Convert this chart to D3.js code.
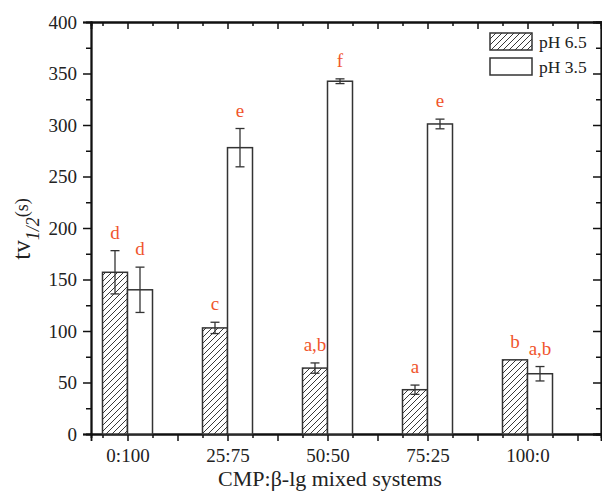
<!DOCTYPE html>
<html>
<head>
<meta charset="utf-8">
<script src="https://cdn.jsdelivr.net/npm/d3@7"></script>
<style>
  body { margin: 0; background: #fff; }
  text { font-family: "Liberation Serif", "DejaVu Serif", serif; }
</style>
</head>
<body>
<svg id="chart" width="602" height="494"></svg>
<script>
"use strict";

var categories = ["0:100", "25:75", "50:50", "75:25", "100:0"];
var ph65 = [157, 103, 64, 43, 72];
var ph65Err = [21, 5.5, 5, 4.5, 0];
var ph35 = [140, 278, 342.5, 301, 58.5];
var ph35Err = [22, 18.6, 2.3, 4.7, 7];
var ph65Letters = ["d", "c", "a,b", "a", "b"];
var ph35Letters = ["d", "e", "f", "e", "a,b"];
var yTicks = [0, 50, 100, 150, 200, 250, 300, 350, 400];
var seriesNames = ["pH 6.5", "pH 3.5"];

var svg = d3.select("#chart");
var plotLeft = 91, plotRight = 601, plotTop = 22, plotBottom = 434;
var LETTER_COLOR = "#f0552d";
var BAR_WIDTH = 0.25;

// category i sits at index i+1 on a linear axis, like the original plot
var x = d3.scaleLinear().domain([0.635, 5.735]).range([plotLeft, plotRight]);
var y = d3.scaleLinear().domain([0, 400]).range([plotBottom, plotTop]);

var defs = svg.append("defs");
var pat = defs.append("pattern")
  .attr("id", "hatch")
  .attr("patternUnits", "userSpaceOnUse")
  .attr("width", 6).attr("height", 6);
pat.append("rect").attr("width", 6).attr("height", 6).attr("fill", "#fff");
pat.append("path")
  .attr("d", "M-1,1 l2,-2 M0,6 l6,-6 M5,7 l2,-2")
  .attr("stroke", "#222").attr("stroke-width", 0.9);

var xMajor = d3.range(1, 5.51, 0.5);
var xMinor = d3.range(0.75, 5.74, 0.5);
var yMinor = d3.range(25, 400, 50);

function tickLabel(d) {
  return Number.isInteger(d) ? categories[d - 1] : "";
}

// bottom axis (outer ticks) and top mirror (inner ticks)
svg.append("g").attr("transform", "translate(0," + plotBottom + ")")
  .call(d3.axisBottom(x).tickValues(xMajor).tickSize(7).tickPadding(8).tickFormat(tickLabel));
svg.append("g").attr("transform", "translate(0," + plotBottom + ")")
  .call(d3.axisBottom(x).tickValues(xMinor).tickSize(4).tickFormat(""));
svg.append("g").attr("transform", "translate(0," + plotTop + ")")
  .call(d3.axisBottom(x).tickValues(xMajor).tickSize(7).tickFormat(""));
svg.append("g").attr("transform", "translate(0," + plotTop + ")")
  .call(d3.axisBottom(x).tickValues(xMinor).tickSize(4).tickFormat(""));

// left axis (outer ticks) and right mirror (inner ticks)
svg.append("g").attr("transform", "translate(" + plotLeft + ",0)")
  .call(d3.axisLeft(y).tickValues(yTicks).tickSize(8).tickPadding(6));
svg.append("g").attr("transform", "translate(" + plotLeft + ",0)")
  .call(d3.axisLeft(y).tickValues(yMinor).tickSize(5).tickFormat(""));
svg.append("g").attr("transform", "translate(" + plotRight + ",0)")
  .call(d3.axisLeft(y).tickValues(yTicks).tickSize(8).tickFormat(""));
svg.append("g").attr("transform", "translate(" + plotRight + ",0)")
  .call(d3.axisLeft(y).tickValues(yMinor).tickSize(5).tickFormat(""));

svg.selectAll(".domain").attr("stroke", "#111").attr("stroke-width", 1.8);
svg.selectAll(".tick line").attr("stroke", "#111").attr("stroke-width", 1.5);
svg.selectAll(".tick text")
  .attr("font-family", "Liberation Serif, serif")
  .attr("font-size", 19).attr("fill", "#222");

var series = [
  { vals: ph65, err: ph65Err, letters: ph65Letters, offset: -BAR_WIDTH / 2, fill: "url(#hatch)" },
  { vals: ph35, err: ph35Err, letters: ph35Letters, offset: BAR_WIDTH / 2, fill: "#fff" }
];

series.forEach(function (s) {
  var g = svg.append("g");
  var items = s.vals.map(function (v, i) {
    return { v: v, e: s.err[i], l: s.letters[i], c: i + 1 + s.offset };
  });

  g.selectAll("rect").data(items).enter().append("rect")
    .attr("x", function (d) { return x(d.c - BAR_WIDTH / 2); })
    .attr("width", function (d) { return x(d.c + BAR_WIDTH / 2) - x(d.c - BAR_WIDTH / 2); })
    .attr("y", function (d) { return y(d.v); })
    .attr("height", function (d) { return y(0) - y(d.v); })
    .attr("fill", s.fill)
    .attr("stroke", "#333").attr("stroke-width", 1.5);

  var eb = g.selectAll("g.err").data(items.filter(function (d) { return d.e > 0; }))
    .enter().append("g").attr("class", "err")
    .attr("stroke", "#333").attr("stroke-width", 1.3);
  eb.append("line")
    .attr("x1", function (d) { return x(d.c); }).attr("x2", function (d) { return x(d.c); })
    .attr("y1", function (d) { return y(d.v + d.e); }).attr("y2", function (d) { return y(d.v - d.e); });
  [1, -1].forEach(function (sign) {
    eb.append("line")
      .attr("x1", function (d) { return x(d.c) - 4.5; }).attr("x2", function (d) { return x(d.c) + 4.5; })
      .attr("y1", function (d) { return y(d.v + sign * d.e); }).attr("y2", function (d) { return y(d.v + sign * d.e); });
  });

  g.selectAll("text.letter").data(items).enter().append("text")
    .attr("class", "letter")
    .attr("x", function (d) { return x(d.c); })
    .attr("y", function (d) { return y(d.v + d.e) - 12; })
    .attr("text-anchor", "middle")
    .attr("font-size", 19)
    .attr("fill", LETTER_COLOR)
    .text(function (d) { return d.l; });
});

// axis titles
svg.append("text")
  .attr("x", 330).attr("y", 486)
  .attr("text-anchor", "middle")
  .attr("font-size", 22).attr("fill", "#222")
  .text("CMP:β-lg mixed systems");

var yt = svg.append("text")
  .attr("transform", "translate(30,229) rotate(-90)")
  .attr("text-anchor", "middle")
  .attr("font-size", 25).attr("fill", "#222");
yt.append("tspan").text("tv");
yt.append("tspan").attr("font-size", 18).attr("font-style", "italic").attr("dy", 9).text("1/2");
yt.append("tspan").attr("font-size", 18).attr("dy", -11).text("(s)");

// legend
var legend = svg.append("g").attr("transform", "translate(490,33)");
var legendFills = ["url(#hatch)", "#fff"];
seriesNames.forEach(function (name, i) {
  legend.append("rect")
    .attr("x", 0).attr("y", i * 25)
    .attr("width", 42).attr("height", 17)
    .attr("fill", legendFills[i])
    .attr("stroke", "#333").attr("stroke-width", 1.5);
  legend.append("text")
    .attr("x", 49).attr("y", i * 25 + 15)
    .attr("font-size", 17.5).attr("fill", "#222")
    .text(name);
});
</script>
</body>
</html>
